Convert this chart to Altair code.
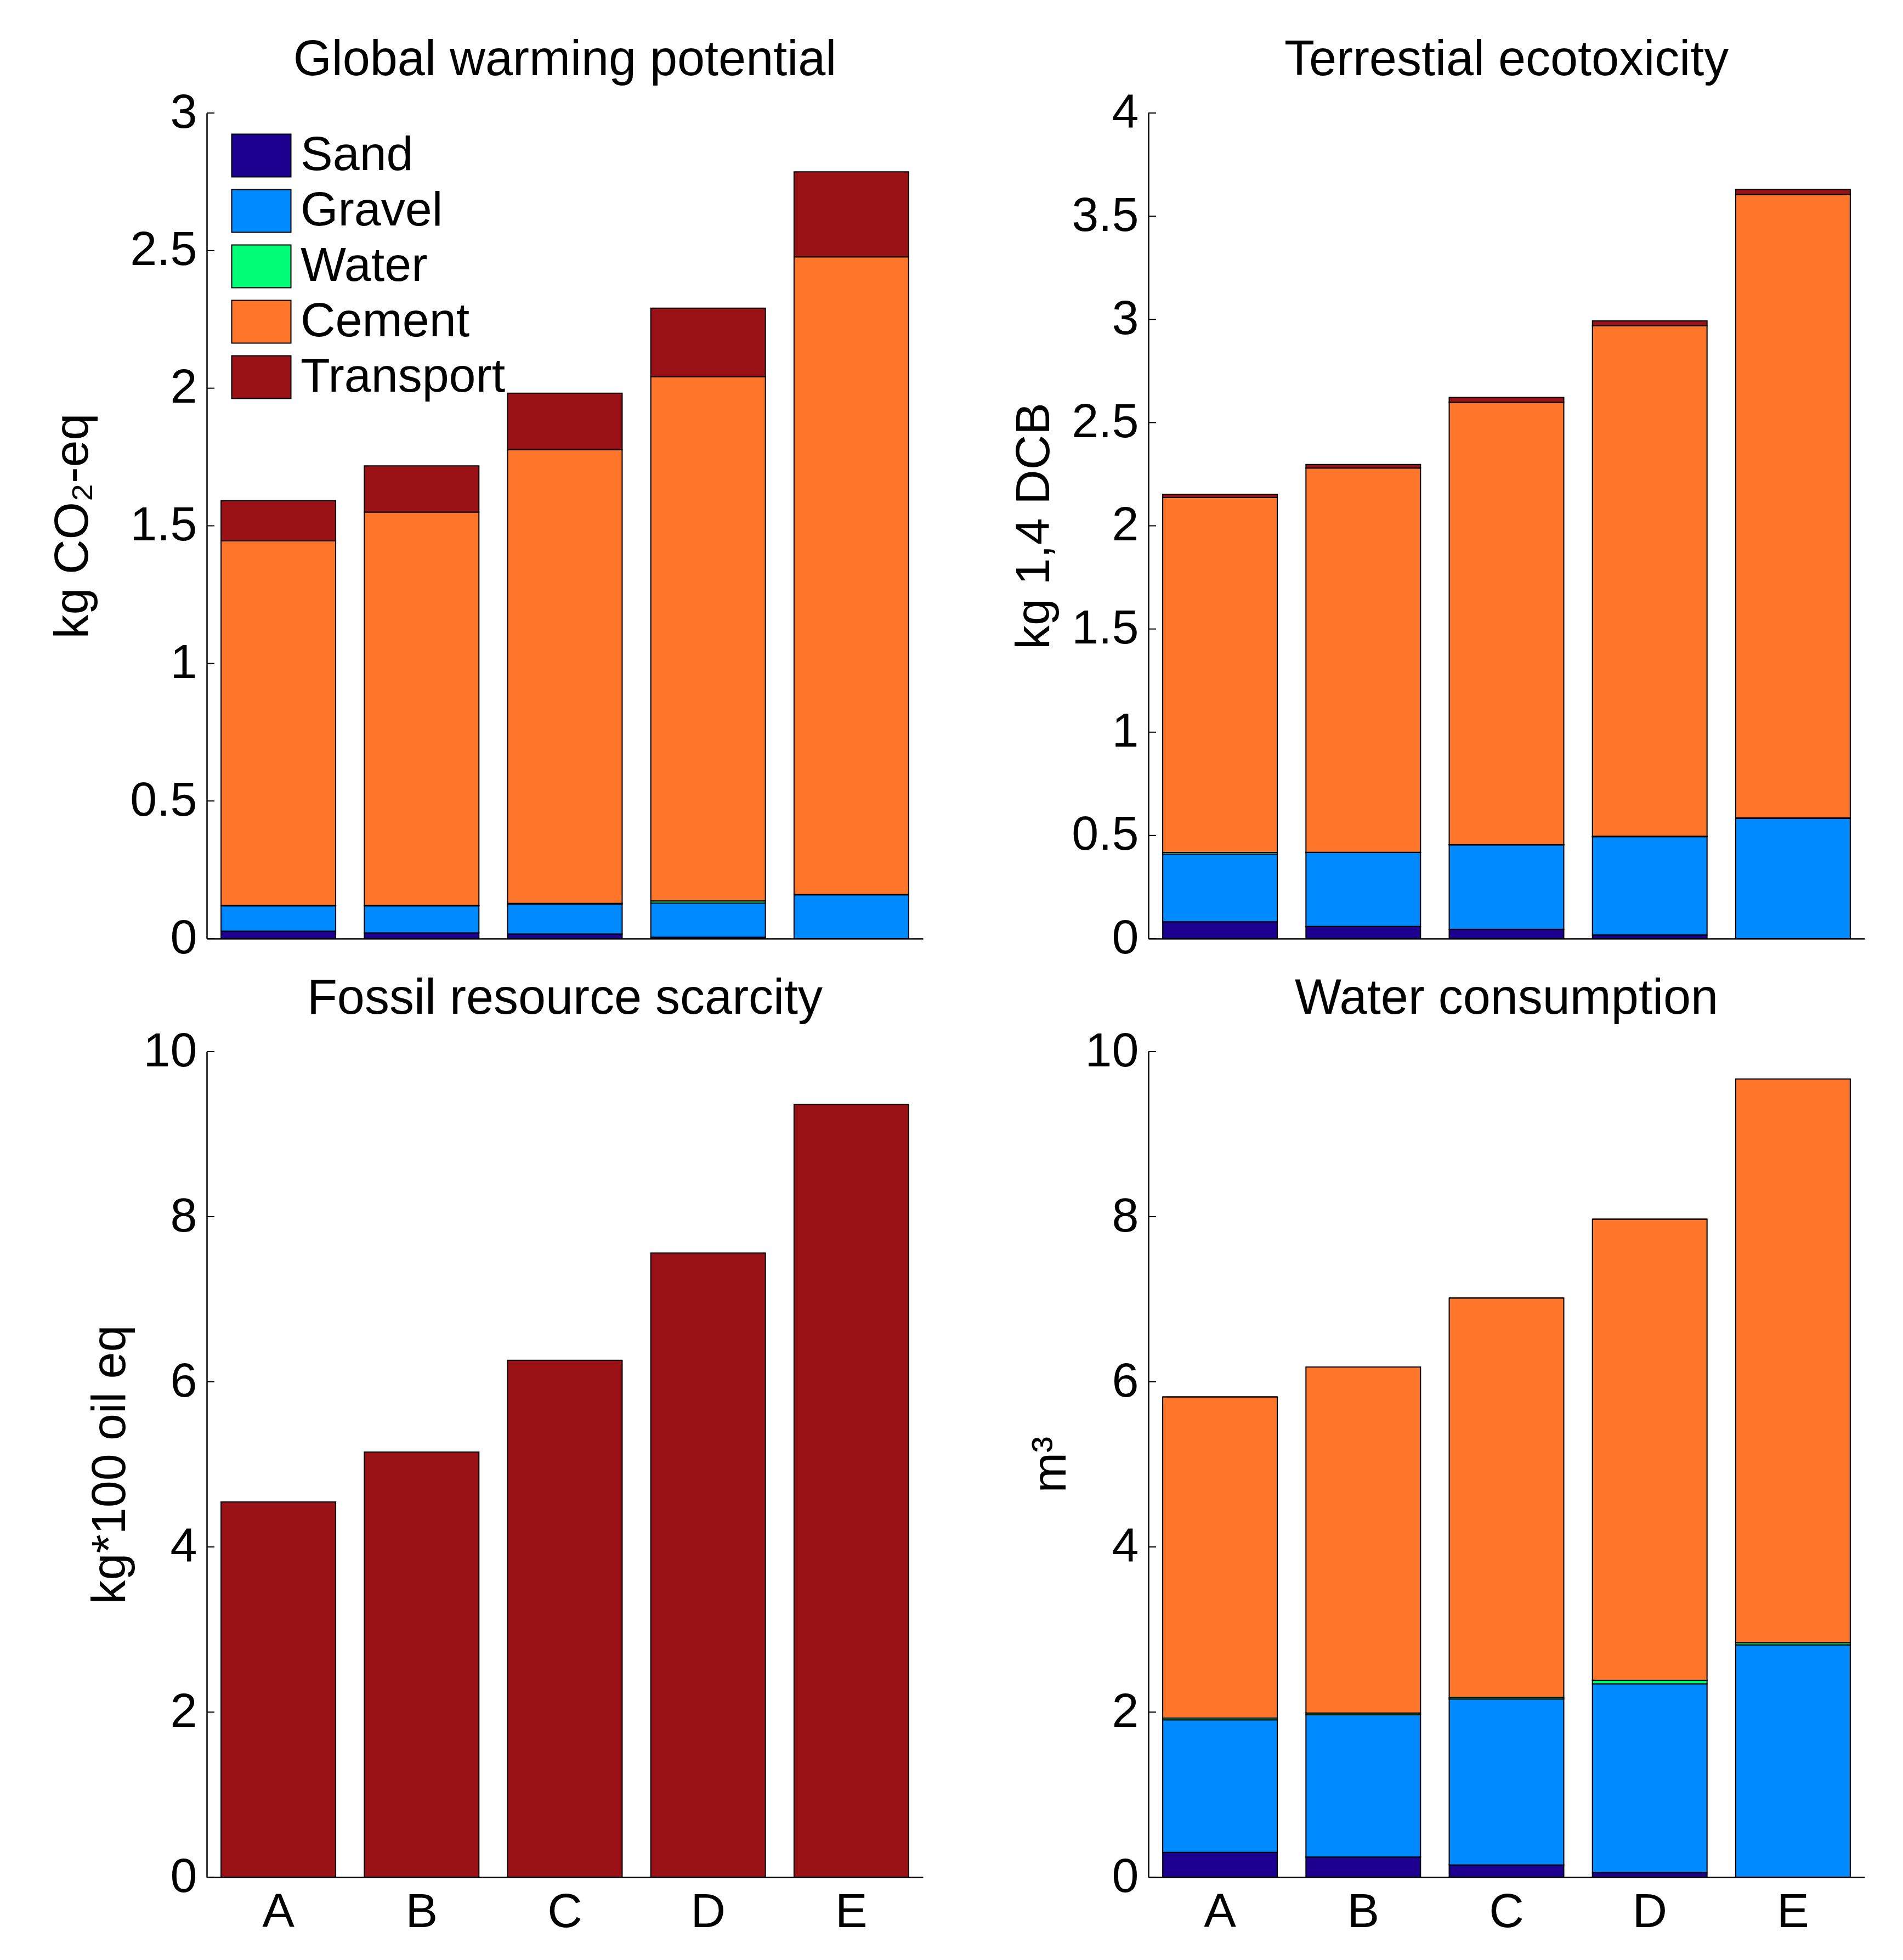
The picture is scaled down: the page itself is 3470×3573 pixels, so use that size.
import altair as alt
import pandas as pd

FONT = "Liberation Sans"

categories = ["A", "B", "C", "D", "E"]
components = ["Sand", "Gravel", "Water", "Cement", "Transport"]
colors = ["#1e0091", "#008aff", "#00ff77", "#ff7529", "#9b1216"]

# Global warming potential (kg CO2-eq)
gwp_sand = [0.027, 0.021, 0.017, 0.005, 0.0]
gwp_gravel = [0.092, 0.098, 0.108, 0.124, 0.159]
gwp_water = [0.001, 0.001, 0.003, 0.008, 0.001]
gwp_cement = [1.325, 1.430, 1.649, 1.904, 2.317]
gwp_transport = [0.146, 0.168, 0.205, 0.250, 0.309]
gwp_ticks = [0, 0.5, 1, 1.5, 2, 2.5, 3]

# Terrestial ecotoxicity (kg 1,4 DCB)
te_sand = [0.082, 0.059, 0.045, 0.018, 0.0]
te_gravel = [0.327, 0.358, 0.409, 0.476, 0.582]
te_water = [0.008, 0.001, 0.001, 0.002, 0.003]
te_cement = [1.720, 1.862, 2.143, 2.473, 3.020]
te_transport = [0.016, 0.017, 0.024, 0.024, 0.025]
te_ticks = [0, 0.5, 1, 1.5, 2, 2.5, 3, 3.5, 4]

# Fossil resource scarcity (kg*100 oil eq)
frs_sand = [0.0, 0.0, 0.0, 0.0, 0.0]
frs_gravel = [0.0, 0.0, 0.0, 0.0, 0.0]
frs_water = [0.0, 0.0, 0.0, 0.0, 0.0]
frs_cement = [0.0, 0.0, 0.0, 0.0, 0.0]
frs_transport = [4.545, 5.15, 6.26, 7.56, 9.36]
frs_ticks = [0, 2, 4, 6, 8, 10]

# Water consumption (m3)
wc_sand = [0.30, 0.245, 0.148, 0.055, 0.0]
wc_gravel = [1.605, 1.722, 2.009, 2.288, 2.814]
wc_water = [0.022, 0.022, 0.020, 0.042, 0.027]
wc_cement = [3.891, 4.191, 4.838, 5.585, 6.826]
wc_transport = [0.0, 0.0, 0.0, 0.0, 0.0]
wc_ticks = [0, 2, 4, 6, 8, 10]

W = 1306
H = 1505
FS = 88
TFS = 90


def panel(title, ytitle, ymax, ticks, series, show_x, show_legend, title_x):
    rows = []
    for ci, comp in enumerate(components):
        for k, cat in enumerate(categories):
            rows.append({"cat": cat, "comp": comp, "idx": ci, "value": series[ci][k]})
    df = pd.DataFrame(rows)

    if show_legend:
        legend = alt.Legend(
            title=None, orient="none", legendX=51, legendY=29,
            symbolType="M-1.137,-0.821H1.137V0.821H-1.137Z", symbolSize=9025,
            symbolStrokeColor="black", symbolStrokeWidth=2, symbolOpacity=1,
            labelFontSize=FS, labelFont=FONT, labelColor="black",
            labelOffset=23, rowPadding=8, padding=0, labelLimit=2000,
        )
    else:
        legend = None

    yscale = alt.Scale(domain=[0, ymax], nice=False, zero=True)
    xaxis = alt.Axis(
        title=None, labels=show_x, ticks=False, labelAngle=0,
        labelFontSize=FS, labelFont=FONT, labelColor="black", labelPadding=20,
        domainColor="black", domainWidth=2.5,
    )
    yaxis = alt.Axis(
        values=ticks, format="~g", title=ytitle, ticks=False, grid=False,
        labelFontSize=FS, labelFont=FONT, labelColor="black", labelPadding=18,
        domainColor="black", domainWidth=2.5,
        titleFontSize=FS, titleFont=FONT, titleFontWeight="normal", titleColor="black",
        titleAngle=270, titleAlign="center", titleBaseline="alphabetic",
        titleX=-title_x, titleY=H / 2,
    )

    bars = alt.Chart(df).mark_bar(stroke="black", strokeWidth=2).encode(
        x=alt.X("cat:N", sort=categories,
                scale=alt.Scale(paddingInner=0.2, paddingOuter=0.1), axis=xaxis),
        y=alt.Y("value:Q", stack="zero", scale=yscale, axis=yaxis),
        color=alt.Color("comp:N", scale=alt.Scale(domain=components, range=colors),
                        legend=legend),
        order=alt.Order("idx:Q", sort="ascending"),
    )

    tick_df = pd.DataFrame({"value": ticks})
    inner_ticks = alt.Chart(tick_df).mark_rule(color="black", strokeWidth=2).encode(
        y=alt.Y("value:Q", scale=yscale),
        x=alt.value(0),
        x2=alt.value(14),
    )

    return alt.layer(bars, inner_ticks).properties(
        width=W, height=H,
        title=alt.TitleParams(
            text=title, frame="group", offset=-65, baseline="alphabetic",
            fontSize=TFS, font=FONT, fontWeight="normal", color="black", anchor="middle",
        ),
    )


p1 = panel("Global warming potential", "kg CO\u2082-eq", 3, gwp_ticks,
           [gwp_sand, gwp_gravel, gwp_water, gwp_cement, gwp_transport],
           False, True, 218)
p2 = panel("Terrestial ecotoxicity", "kg 1,4 DCB", 4, te_ticks,
           [te_sand, te_gravel, te_water, te_cement, te_transport],
           False, False, 182)
p3 = panel("Fossil resource scarcity", "kg*100 oil eq", 10, frs_ticks,
           [frs_sand, frs_gravel, frs_water, frs_cement, frs_transport],
           True, False, 150)
p4 = panel("Water consumption", "m\u00b3", 10, wc_ticks,
           [wc_sand, wc_gravel, wc_water, wc_cement, wc_transport],
           True, False, 152)

chart = alt.concat(
    p1, p2, p3, p4, columns=2, spacing={"row": 206, "column": 411}, bounds="flush"
).resolve_scale(color="independent", y="independent").resolve_legend(
    color="independent"
).properties(
    padding={"left": 81, "top": 57, "right": 20, "bottom": 20},
    background="white",
).configure_view(stroke=None)

chart.save("out.html", embed_options={"renderer": "svg", "actions": False})
